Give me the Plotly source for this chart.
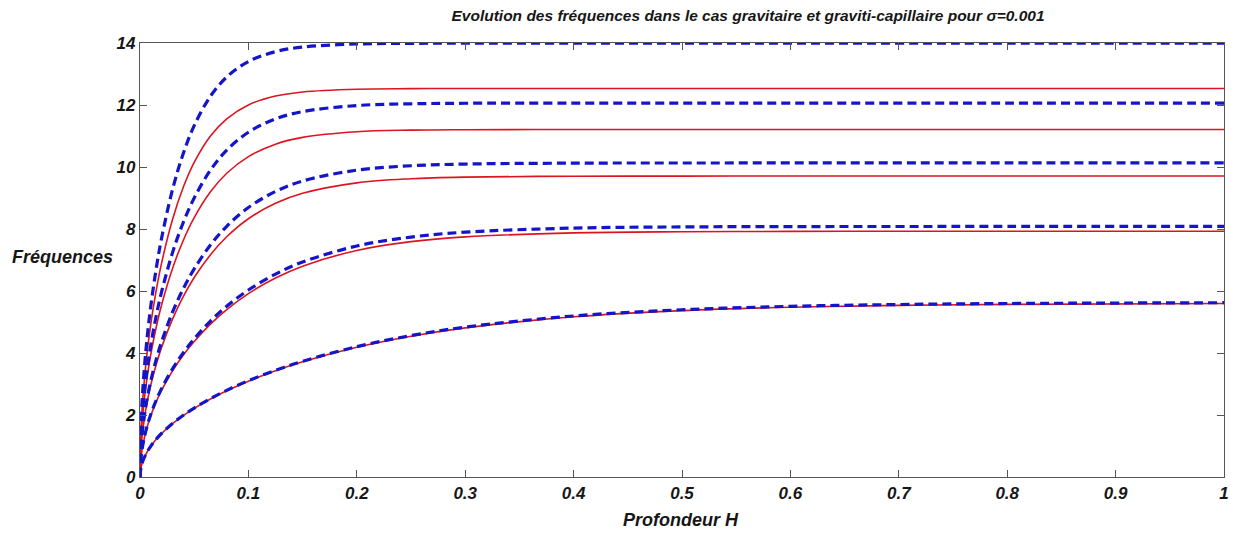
import plotly.graph_objects as go

# Water depth H (x axis)
depth = [0, 0.001, 0.003, 0.006, 0.01, 0.015, 0.02, 0.03, 0.04, 0.05, 0.065, 0.08,
         0.1, 0.125, 0.15, 0.2, 0.25, 0.3, 0.4, 0.5, 0.6, 0.7, 0.8, 1.0]

# Gravity case (solid red), modes 1..5
grav_1 = [0, 0.314, 0.544, 0.770, 0.993, 1.216, 1.404, 1.718, 1.982, 2.212, 2.515, 2.781,
          3.092, 3.426, 3.715, 4.183, 4.539, 4.810, 5.168, 5.368, 5.477, 5.537, 5.568, 5.595]
grav_2 = [0, 0.628, 1.088, 1.539, 1.986, 2.430, 2.803, 3.421, 3.933, 4.372, 4.932, 5.401,
          5.916, 6.419, 6.802, 7.309, 7.592, 7.746, 7.875, 7.912, 7.923, 7.926, 7.927, 7.927]
grav_3 = [0, 0.942, 1.632, 2.307, 2.976, 3.638, 4.190, 5.095, 5.825, 6.434, 7.173, 7.751,
          8.331, 8.828, 9.150, 9.487, 9.621, 9.674, 9.703, 9.707, 9.708, 9.708, 9.708, 9.708]
grav_4 = [0, 1.257, 2.176, 3.075, 3.964, 4.838, 5.562, 6.727, 7.638, 8.365, 9.199, 9.797,
          10.336, 10.736, 10.955, 11.137, 11.189, 11.204, 11.210, 11.210, 11.210, 11.210, 11.210, 11.210]
grav_5 = [0, 1.571, 2.720, 3.842, 4.947, 6.028, 6.913, 8.306, 9.353, 10.149, 11.000, 11.556,
          12.003, 12.288, 12.421, 12.510, 12.528, 12.532, 12.533, 12.533, 12.533, 12.533, 12.533, 12.533]

# Gravity-capillary case (dashed blue), modes 1..5
capi_1 = [0, 0.316, 0.547, 0.773, 0.998, 1.222, 1.411, 1.727, 1.992, 2.223, 2.528, 2.795,
          3.107, 3.443, 3.733, 4.204, 4.562, 4.834, 5.194, 5.395, 5.505, 5.564, 5.596, 5.622]
capi_2 = [0, 0.641, 1.110, 1.569, 2.025, 2.478, 2.858, 3.488, 4.010, 4.458, 5.029, 5.507,
          6.031, 6.545, 6.935, 7.452, 7.740, 7.898, 8.029, 8.067, 8.078, 8.081, 8.082, 8.082]
capi_3 = [0, 0.983, 1.703, 2.408, 3.105, 3.796, 4.372, 5.316, 6.079, 6.713, 7.485, 8.088,
          8.693, 9.211, 9.548, 9.899, 10.040, 10.095, 10.125, 10.129, 10.130, 10.130, 10.130, 10.130]
capi_4 = [0, 1.352, 2.341, 3.309, 4.265, 5.206, 5.985, 7.238, 8.218, 9.001, 9.898, 10.542,
          11.121, 11.552, 11.787, 11.983, 12.039, 12.056, 12.062, 12.062, 12.062, 12.062, 12.062, 12.062]
capi_5 = [0, 1.754, 3.037, 4.290, 5.524, 6.731, 7.719, 9.274, 10.443, 11.333, 12.282, 12.903,
          13.402, 13.721, 13.869, 13.968, 13.989, 13.993, 13.994, 13.994, 13.994, 13.994, 13.994, 13.994]

gravity_modes = [grav_1, grav_2, grav_3, grav_4, grav_5]
capillary_modes = [capi_1, capi_2, capi_3, capi_4, capi_5]

x_ticks = [0, 0.1, 0.2, 0.3, 0.4, 0.5, 0.6, 0.7, 0.8, 0.9, 1]
y_ticks = [0, 2, 4, 6, 8, 10, 12, 14]

FONT = "Liberation Sans"
INK = "#161616"

# plot-area geometry in pixels
W, H = 1238, 533
L, R, T, B = 140, 9, 43, 56
PW, PH = W - L - R, H - T - B

fig = go.Figure()

for ys in gravity_modes:
    fig.add_trace(go.Scatter(
        x=depth, y=ys, mode="lines", line_shape="spline",
        line=dict(color="#dc1420", width=1.6),
        showlegend=False, hoverinfo="skip"))

for ys in capillary_modes:
    fig.add_trace(go.Scatter(
        x=depth, y=ys, mode="lines", line_shape="spline",
        line=dict(color="#1414c8", width=3.2, dash="9px,5px"),
        showlegend=False, hoverinfo="skip"))

tick_font = dict(family=FONT, size=17, color=INK)

fig.update_layout(
    width=W, height=H,
    margin=dict(l=L, r=R, t=T, b=B),
    paper_bgcolor="white", plot_bgcolor="white",
    title=dict(
        text="<b><i>Evolution des fréquences dans le cas gravitaire et graviti-capillaire pour σ=0.001</i></b>",
        x=748 / W, xanchor="center", y=1 - 16 / H, yanchor="middle",
        font=dict(family=FONT, size=15.5, color=INK)),
    xaxis=dict(
        range=[0, 1], tickvals=x_ticks, ticktext=[f"<b><i>{v:g}</i></b>" for v in x_ticks],
        ticks="inside", ticklen=7, tickcolor="#555", showline=True, linecolor="#555",
        linewidth=1.2, mirror="ticks", showgrid=False, zeroline=False,
        tickfont=tick_font),
    yaxis=dict(
        range=[0, 14], tickvals=y_ticks, ticktext=[f"<b><i>{v}</i></b>" for v in y_ticks],
        ticks="inside", ticklen=7, tickcolor="#555", showline=True, linecolor="#555",
        linewidth=1.2, mirror="ticks", showgrid=False, zeroline=False,
        tickfont=tick_font),
)

# Axis labels placed MATLAB style (y label horizontal, left of the axis)
fig.add_annotation(
    text="<b><i>Fréquences</i></b>", xref="paper", yref="paper",
    x=(62 - L) / PW, y=(H - B - 257) / PH, xanchor="center", yanchor="middle",
    showarrow=False, font=dict(family=FONT, size=18, color=INK))
fig.add_annotation(
    text="<b><i>Profondeur H</i></b>", xref="paper", yref="paper",
    x=(683 - L) / PW, y=(H - B - 520) / PH, xanchor="center", yanchor="middle",
    showarrow=False, font=dict(family=FONT, size=18, color=INK))

fig.write_html("out.html")
